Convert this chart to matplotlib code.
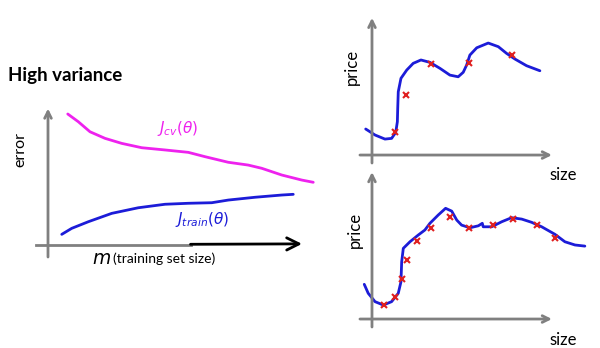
import matplotlib
matplotlib.use("Agg")
import matplotlib.pyplot as plt

# learning curves (left panel), m vs error
m_cv = [7.9, 12.1, 16.8, 22.8, 29.5, 37.5, 46.8, 56.1, 62.8, 72.1, 80.1, 85.5, 93.5,
        101.5, 106.1]
j_cv = [9.36, 8.81, 8.09, 7.62, 7.26, 6.95, 6.79, 6.62, 6.31, 5.91, 5.71, 5.48, 5.0,
        4.64, 4.48]
m_train = [5.5, 9.5, 16.1, 25.5, 36.1, 46.8, 56.1, 65.5, 72.1, 82.8, 93.5, 98.1]
j_train = [0.76, 1.19, 1.66, 2.26, 2.66, 2.91, 2.98, 3.02, 3.21, 3.41, 3.57, 3.62]

# top right: overfit curve through 5 points
size_fit1 = [-0.35, 0.17, 0.72, 1.09, 1.32, 1.41, 1.43, 1.46, 1.61, 1.93, 2.29, 2.72,
             3.22, 3.78, 4.33, 4.79, 5.07, 5.26, 5.44, 5.82, 6.46, 7.02, 7.48, 7.94,
             8.59, 9.33]
price_fit1 = [1.86, 1.43, 1.14, 1.19, 1.62, 2.38, 3.34, 4.52, 5.48, 6.07, 6.55, 6.79,
              6.62, 6.19, 5.71, 5.59, 5.91, 6.43, 7.14, 7.66, 8.0, 7.74, 7.26, 6.86,
              6.38, 6.02]
size_pts1 = [1.28, 1.89, 3.28, 5.37, 7.8]
price_pts1 = [1.62, 4.29, 6.48, 6.55, 7.14]

# bottom right: overfit curve through 12 points
size_fit2 = [-0.43, -0.21, 0.17, 0.63, 1.09, 1.46, 1.61, 1.65, 1.74, 2.11, 2.57, 2.94,
             3.22, 3.68, 4.09, 4.43, 4.71, 4.98, 5.44, 5.91, 6.13, 6.18, 6.65, 7.21,
             7.76, 8.32, 8.87, 9.43, 10.17, 10.72, 11.28, 11.83]
price_fit2 = [2.48, 1.84, 1.24, 1.0, 1.24, 1.84, 2.66, 4.09, 5.05, 5.52, 6.0, 6.36,
              6.84, 7.43, 7.91, 7.71, 7.07, 6.71, 6.52, 6.66, 6.84, 6.59, 6.59, 6.95,
              7.24, 7.14, 6.91, 6.59, 6.05, 5.52, 5.29, 5.21]
size_pts2 = [0.67, 1.28, 1.65, 1.93, 2.52, 3.28, 4.33, 5.39, 6.71, 7.81, 9.15, 10.17]
price_pts2 = [1.0, 1.59, 2.84, 4.21, 5.57, 6.48, 7.26, 6.48, 6.71, 7.14, 6.71, 5.81]

W, H = 600, 348
GRAY = "#808080"
BLUE = "#1c1cd8"
MAG = "#ee22ee"
RED = "#e02020"
plt.rcParams['font.family'] = ['Lato', 'DejaVu Sans']

fig = plt.figure(figsize=(6, 3.48), dpi=100)


def box(x0, y0, x1, y1):
    # pixel box -> figure fraction
    return [x0 / W, (H - y1) / H, (x1 - x0) / W, (y1 - y0) / H]


def arrow(ax, p0, p1, color=GRAY, lw=2, ms=12):
    ax.annotate("", xy=p1, xytext=p0,
                arrowprops=dict(arrowstyle="->", color=color, lw=lw,
                                mutation_scale=ms, shrinkA=0, shrinkB=0))


line_kw = dict(lw=2, solid_capstyle="round", solid_joinstyle="round")

# left panel
ax = fig.add_axes(box(30, 100, 320, 265))
ax.set_xlim(-7.2, 108.8)
ax.set_ylim(-1.43, 10.36)
ax.axis("off")
arrow(ax, (0, -0.86), (0, 9.75))
ax.plot([-4.8, 57], [0, 0], color=GRAY, lw=2)
arrow(ax, (57, 0.05), (101.6, 0.08), color="black", lw=2, ms=22)
ax.plot(m_cv, j_cv, color=MAG, **line_kw)
ax.plot(m_train, j_train, color=BLUE, **line_kw)
ax.text(52, 8.35, r"$J_{cv}(\theta)$", color=MAG, fontsize=11, ha="center", va="center")
ax.text(61.5, 1.85, r"$J_{train}(\theta)$", color=BLUE, fontsize=11, ha="center", va="center")
ax.text(-11, 6.8, "error", rotation=90, fontsize=11.5, ha="center", va="center",
        clip_on=False)
ax.text(17.5, -1.0, r"$m$", fontsize=13.5, ha="left", va="center")
ax.text(26, -1.0, "(training set size)", fontsize=10, ha="left", va="center")

fig.text(8 / W, 1 - 75 / H, "High variance", fontsize=13.5, fontweight="bold",
         ha="left", va="center")

# top right panel
ax1 = fig.add_axes(box(345, 10, 598, 185))
ax1.set_xlim(-1.5, 12.56)
ax1.set_ylim(-2.14, 10.36)
ax1.axis("off")
arrow(ax1, (0, -0.57), (0, 9.8))
arrow(ax1, (-0.67, 0), (10.0, 0))
ax1.plot(size_fit1, price_fit1, color=BLUE, **line_kw)
ax1.plot(size_pts1, price_pts1, "x", color=RED, ms=5, mew=1.5)
ax1.text(-1.1, 6.3, "price", rotation=90, fontsize=12, ha="center", va="center")
ax1.text(10.6, -1.45, "size", fontsize=12, ha="center", va="center")

# bottom right panel
ax2 = fig.add_axes(box(345, 168, 598, 348))
ax2.set_xlim(-1.5, 12.56)
ax2.set_ylim(-2.07, 10.79)
ax2.axis("off")
arrow(ax2, (0, -0.57), (0, 10.5))
arrow(ax2, (-0.67, 0), (10.0, 0))
ax2.plot(size_fit2, price_fit2, color=BLUE, **line_kw)
ax2.plot(size_pts2, price_pts2, "x", color=RED, ms=5, mew=1.5)
ax2.text(-0.95, 6.4, "price", rotation=90, fontsize=12, ha="center", va="center")
ax2.text(10.6, -1.5, "size", fontsize=12, ha="center", va="center")

fig.savefig("out.png", dpi=100)
